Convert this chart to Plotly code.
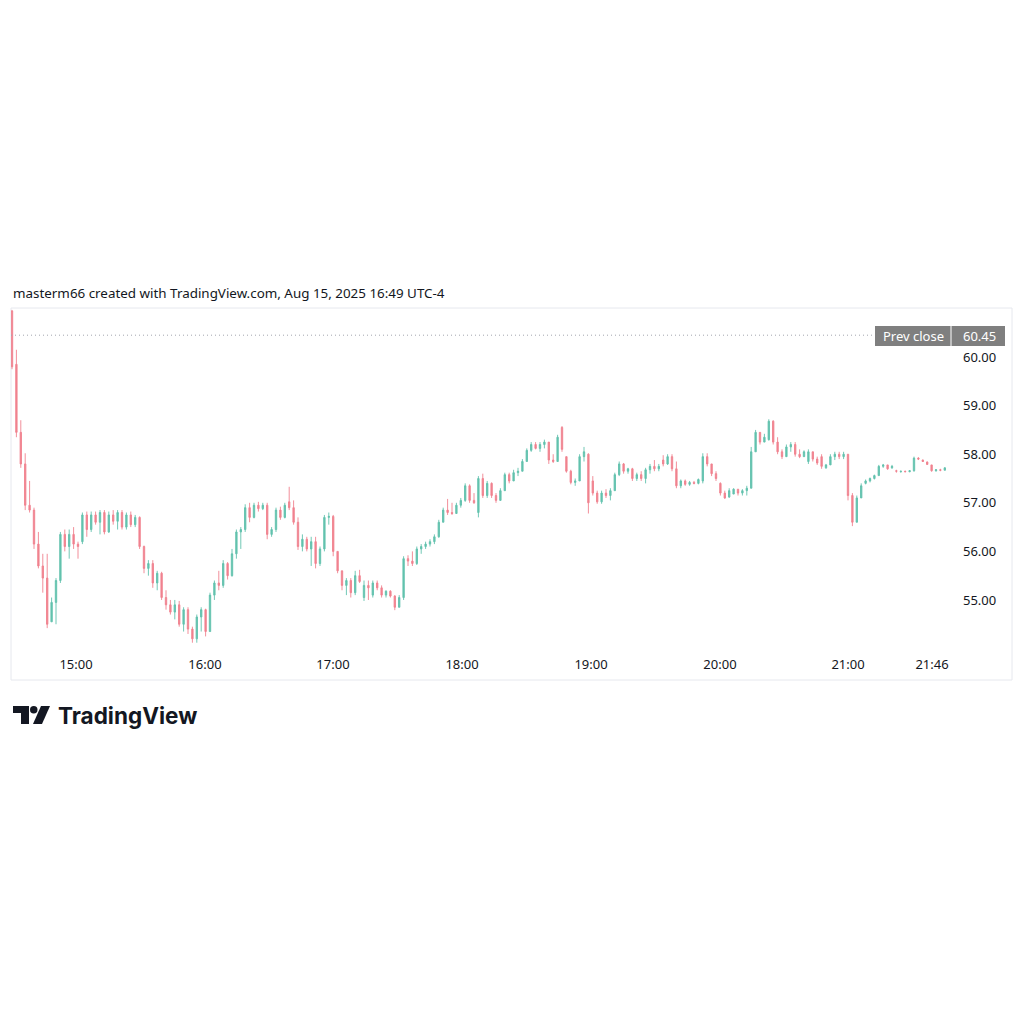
import plotly.graph_objects as go

# ---------------- data ----------------
opens = [60.95,59.85,58.45,57.80,56.95,56.85,56.15,55.70,55.45,54.55,
 54.95,55.40,56.35,56.10,56.35,56.15,56.20,56.75,56.45,56.75,
 56.60,56.80,56.40,56.75,56.62,56.80,56.50,56.75,56.55,56.70,
 56.10,55.65,55.75,55.35,55.55,55.05,54.90,54.75,54.90,54.50,
 54.80,54.40,54.20,54.65,54.80,54.35,55.10,55.35,55.30,55.75,
 55.50,55.95,56.40,56.45,56.90,56.70,56.95,56.88,56.95,56.35,
 56.45,56.85,56.70,57.02,56.90,56.60,56.10,56.25,56.05,56.20,
 55.75,56.05,56.70,56.72,56.00,55.60,55.30,55.40,55.15,55.50,
 55.05,55.30,55.10,55.35,55.25,55.10,55.18,55.08,54.85,55.05,
 55.85,55.80,55.75,56.05,56.10,56.15,56.20,56.30,56.60,56.85,
 56.80,56.78,56.95,57.05,57.35,57.05,56.80,57.50,57.15,57.40,
 57.15,57.05,57.25,57.58,57.45,57.62,57.65,57.85,58.08,58.20,
 58.12,58.20,58.25,57.88,57.85,58.55,57.95,57.65,57.42,57.45,
 57.95,58.00,57.45,57.20,57.02,57.20,57.15,57.25,57.58,57.80,
 57.65,57.70,57.50,57.58,57.50,57.68,57.75,57.70,57.88,57.80,
 57.95,57.70,57.35,57.45,57.38,57.42,57.40,57.45,57.95,57.80,
 57.60,57.40,57.20,57.12,57.18,57.28,57.20,57.25,57.30,58.05,
 58.45,58.25,58.30,58.68,58.25,58.05,57.95,58.15,58.20,58.00,
 57.95,57.85,58.05,57.90,57.95,57.72,57.78,57.95,58.00,57.95,
 58.00,57.15,56.60,57.10,57.40,57.45,57.50,57.56,57.75,57.78,
 57.72,57.66,57.64,57.65,57.64,57.66,57.92,57.88,57.84,57.78,
 57.66,57.68,57.67]
highs = [60.97,60.15,58.70,58.02,57.45,56.90,56.40,55.95,55.95,55.05,
 55.45,56.40,56.45,56.45,56.50,56.20,56.80,56.82,56.82,56.82,
 56.85,56.85,56.82,56.85,56.85,56.85,56.80,56.82,56.75,56.72,
 56.12,55.82,55.82,55.60,55.58,55.20,55.00,55.00,54.98,54.85,
 54.85,54.45,54.70,54.85,54.82,55.15,55.40,55.60,55.82,55.78,
 56.05,56.45,56.50,56.97,57.00,57.00,57.02,57.00,57.00,56.50,
 56.90,56.92,57.00,57.33,57.05,56.70,56.35,56.30,56.30,56.30,
 56.10,56.75,56.80,56.75,56.00,55.60,55.45,55.45,55.60,55.62,
 55.40,55.40,55.40,55.40,55.30,55.20,55.20,55.10,55.10,55.90,
 55.92,56.00,56.10,56.15,56.20,56.25,56.35,56.65,56.90,57.08,
 57.00,57.00,57.10,57.40,57.38,57.20,57.55,57.60,57.45,57.42,
 57.20,57.30,57.62,57.62,57.68,57.72,57.90,58.12,58.25,58.25,
 58.25,58.30,58.25,58.00,58.40,58.58,57.95,57.68,57.50,58.00,
 58.15,58.02,57.55,57.25,57.25,57.28,57.30,57.62,57.85,57.82,
 57.72,57.72,57.62,57.65,57.72,57.80,57.88,57.80,57.98,58.00,
 58.00,57.85,57.48,57.48,57.45,57.45,57.50,58.02,58.02,57.80,
 57.65,57.42,57.25,57.30,57.30,57.28,57.28,57.35,58.15,58.50,
 58.45,58.42,58.72,58.70,58.35,58.10,58.20,58.25,58.25,58.10,
 58.08,58.10,58.05,57.95,58.00,57.80,58.00,58.05,58.05,58.05,
 58.00,57.20,57.15,57.40,57.48,57.52,57.58,57.78,57.80,57.78,
 57.78,57.68,57.66,57.66,57.67,57.95,57.94,57.89,57.85,57.78,
 57.69,57.70,57.73]
lows = [59.75,58.35,57.72,56.85,56.80,56.05,55.65,55.15,54.42,54.55,
 54.50,55.35,56.00,55.85,56.05,55.85,56.15,56.30,56.40,56.55,
 56.35,56.35,56.38,56.55,56.45,56.45,56.45,56.50,56.50,56.05,
 55.55,55.50,55.25,55.20,55.00,54.80,54.70,54.60,54.45,54.35,
 54.30,54.12,54.12,54.35,54.25,54.35,55.00,55.20,55.25,55.42,
 55.48,55.85,56.05,56.40,56.60,56.68,56.82,56.85,56.25,56.30,
 56.40,56.65,56.68,56.85,56.55,56.03,56.00,56.00,55.70,55.65,
 55.70,56.00,56.55,55.90,55.55,55.20,55.10,55.05,55.10,55.35,
 54.98,55.00,55.05,55.20,55.05,55.05,55.05,54.79,54.85,55.00,
 55.70,55.70,55.72,55.95,56.05,56.10,56.15,56.28,56.60,56.75,
 56.75,56.78,56.90,57.02,57.00,56.98,56.70,57.10,57.10,57.10,
 57.00,57.05,57.25,57.40,57.45,57.55,57.65,57.85,58.05,58.10,
 58.05,58.12,57.80,57.82,57.85,58.05,57.62,57.38,57.35,57.45,
 57.85,56.78,57.15,56.98,56.98,57.10,57.05,57.25,57.55,57.60,
 57.60,57.45,57.45,57.45,57.40,57.60,57.65,57.65,57.75,57.78,
 57.65,57.30,57.30,57.35,57.35,57.38,57.38,57.40,57.75,57.55,
 57.45,57.15,57.08,57.10,57.18,57.15,57.15,57.15,57.30,58.05,
 58.20,58.25,58.28,58.20,58.00,57.90,57.95,58.05,57.95,57.92,
 57.95,57.80,57.85,57.78,57.70,57.70,57.78,57.88,57.90,57.90,
 57.05,56.52,56.60,57.10,57.38,57.42,57.48,57.56,57.72,57.68,
 57.70,57.62,57.62,57.63,57.63,57.64,57.88,57.84,57.78,57.64,
 57.64,57.65,57.67]
closes = [59.80,58.45,57.80,56.95,56.85,56.15,55.70,55.45,54.50,54.95,
 55.40,56.35,56.10,56.35,56.15,56.10,56.75,56.45,56.75,56.60,
 56.80,56.40,56.75,56.62,56.80,56.50,56.75,56.55,56.70,56.10,
 55.65,55.75,55.35,55.55,55.05,54.90,54.75,54.90,54.50,54.80,
 54.40,54.20,54.65,54.80,54.35,55.10,55.35,55.30,55.75,55.50,
 55.95,56.40,56.45,56.90,56.70,56.95,56.88,56.95,56.35,56.45,
 56.85,56.70,56.95,56.90,56.60,56.10,56.25,56.05,56.20,55.75,
 56.05,56.70,56.72,56.00,55.60,55.30,55.40,55.15,55.50,55.38,
 55.30,55.25,55.35,55.25,55.10,55.18,55.08,54.85,55.05,55.85,
 55.80,55.75,56.05,56.10,56.15,56.20,56.30,56.60,56.85,56.80,
 56.78,56.95,57.05,57.35,57.05,57.00,57.50,57.15,57.40,57.15,
 57.05,57.25,57.58,57.45,57.62,57.65,57.85,58.08,58.20,58.12,
 58.20,58.25,57.88,57.85,58.35,58.10,57.65,57.42,57.45,57.95,
 58.05,57.00,57.20,57.02,57.20,57.15,57.25,57.58,57.80,57.65,
 57.70,57.50,57.58,57.50,57.68,57.75,57.70,57.75,57.80,57.95,
 57.70,57.35,57.45,57.38,57.42,57.40,57.48,57.95,57.80,57.60,
 57.50,57.20,57.10,57.25,57.28,57.20,57.25,57.30,58.05,58.45,
 58.25,58.35,58.68,58.25,58.05,57.95,58.15,58.20,58.00,57.95,
 58.05,58.05,57.90,57.82,57.75,57.78,57.95,58.00,57.95,58.00,
 57.15,56.60,57.10,57.35,57.45,57.50,57.56,57.75,57.78,57.70,
 57.75,57.65,57.65,57.64,57.66,57.92,57.90,57.85,57.79,57.66,
 57.68,57.67,57.72]
bar_index = list(range(len(closes)))

tick_idx = [14.55, 43.86, 72.95, 102.27, 131.6, 160.9, 190.0, 209.1]
tick_labels = ["15:00", "16:00", "17:00", "18:00", "19:00", "20:00", "21:00", "21:46"]
price_ticks = [55, 56, 57, 58, 59, 60]
prev_close = 60.45
header = "masterm66 created with TradingView.com, Aug 15, 2025 16:49 UTC-4"

# ---------------- helpers (pixel -> paper) ----------------
W = H = 1024
def px(x):
    return x / W
def py(y):
    return 1 - y / H

UP = "#62c2ae"
DOWN = "#f0828f"
TXT = "#131722"
FONT = "Noto Sans"

fig = go.Figure()
fig.add_trace(go.Candlestick(
    x=bar_index, open=opens, high=highs, low=lows, close=closes,
    increasing=dict(line=dict(color=UP, width=0.9), fillcolor=UP),
    decreasing=dict(line=dict(color=DOWN, width=0.9), fillcolor=DOWN),
    whiskerwidth=0, hoverinfo="skip", showlegend=False,
))

pane_l, pane_r, pane_t, pane_b = 11, 955, 308, 650
bar0_px, bar_step = 12, 4.4

fig.update_layout(
    width=W, height=H, margin=dict(l=0, r=0, t=0, b=0),
    paper_bgcolor="white", plot_bgcolor="white",
    font=dict(family=FONT, color=TXT, size=13),
    boxgap=0.55, boxgroupgap=0.3,
    xaxis=dict(
        domain=[px(pane_l), px(pane_r)],
        range=[(pane_l - bar0_px) / bar_step, (pane_r - bar0_px) / bar_step],
        tickmode="array", tickvals=tick_idx, ticktext=tick_labels,
        showgrid=False, zeroline=False, showline=False, ticks="",
        rangeslider=dict(visible=False), ticklabelstandoff=5,
        tickfont=dict(size=13, color=TXT, family=FONT),
    ),
    yaxis=dict(
        domain=[py(pane_b), py(pane_t)],
        range=[53.97, 61.01], side="right",
        tickmode="array", tickvals=price_ticks,
        ticktext=[f"{v:.2f}" for v in price_ticks],
        showgrid=False, zeroline=False, showline=False, ticks="",
        ticklabelstandoff=7,
        tickfont=dict(size=13, color=TXT, family=FONT),
    ),
)

shapes = []
# outer frame
shapes.append(dict(type="rect", xref="paper", yref="paper",
                   x0=px(11), x1=px(1012), y0=py(680), y1=py(308),
                   line=dict(color="#e6e8ee", width=1), fillcolor="rgba(0,0,0,0)", layer="below"))
# prev close dotted line
shapes.append(dict(type="line", xref="paper", yref="y",
                   x0=px(pane_l), x1=px(875), y0=prev_close, y1=prev_close,
                   line=dict(color="#a3a6af", width=1, dash="1px,3px")))
# prev close label box
shapes.append(dict(type="rect", xref="paper", yref="paper",
                   x0=px(875), x1=px(1005), y0=py(346), y1=py(326),
                   line=dict(width=0), fillcolor="#7f7f7f"))
shapes.append(dict(type="line", xref="paper", yref="paper",
                   x0=px(951), x1=px(951), y0=py(346), y1=py(326),
                   line=dict(color="white", width=1)))
# TradingView logo icon
def path(points):
    s = "M " + " L ".join(f"{px(a):.5f},{py(b):.5f}" for a, b in points) + " Z"
    return s
shapes.append(dict(type="path", xref="paper", yref="paper",
                   path=path([(13, 706), (29, 706), (29, 724), (21, 724), (21, 713), (13, 713)]),
                   fillcolor="#131722", line=dict(width=0)))
shapes.append(dict(type="circle", xref="paper", yref="paper",
                   x0=px(30), x1=px(37.5), y0=py(713.5), y1=py(706),
                   fillcolor="#131722", line=dict(width=0)))
shapes.append(dict(type="path", xref="paper", yref="paper",
                   path=path([(41, 706), (50, 706), (42, 724), (33, 724)]),
                   fillcolor="#131722", line=dict(width=0)))
fig.update_layout(shapes=shapes)

ann = [
    dict(text=header, x=px(11), y=py(293), xref="paper", yref="paper",
         xanchor="left", yanchor="middle", showarrow=False,
         font=dict(size=13.4, color=TXT, family=FONT)),
    dict(text="Prev close", x=px(913), y=py(336), xref="paper", yref="paper",
         xanchor="center", yanchor="middle", showarrow=False,
         font=dict(size=13, color="white", family=FONT)),
    dict(text=f"{prev_close:.2f}", x=px(979), y=py(336), xref="paper", yref="paper",
         xanchor="center", yanchor="middle", showarrow=False,
         font=dict(size=13, color="white", family=FONT)),
    dict(text="TradingView", x=px(56), y=py(715), xref="paper", yref="paper",
         xanchor="left", yanchor="middle", showarrow=False,
         font=dict(size=22.5, color=TXT, family="Inter", weight=700)),
]
fig.update_layout(annotations=ann)

fig.write_html("out.html")
